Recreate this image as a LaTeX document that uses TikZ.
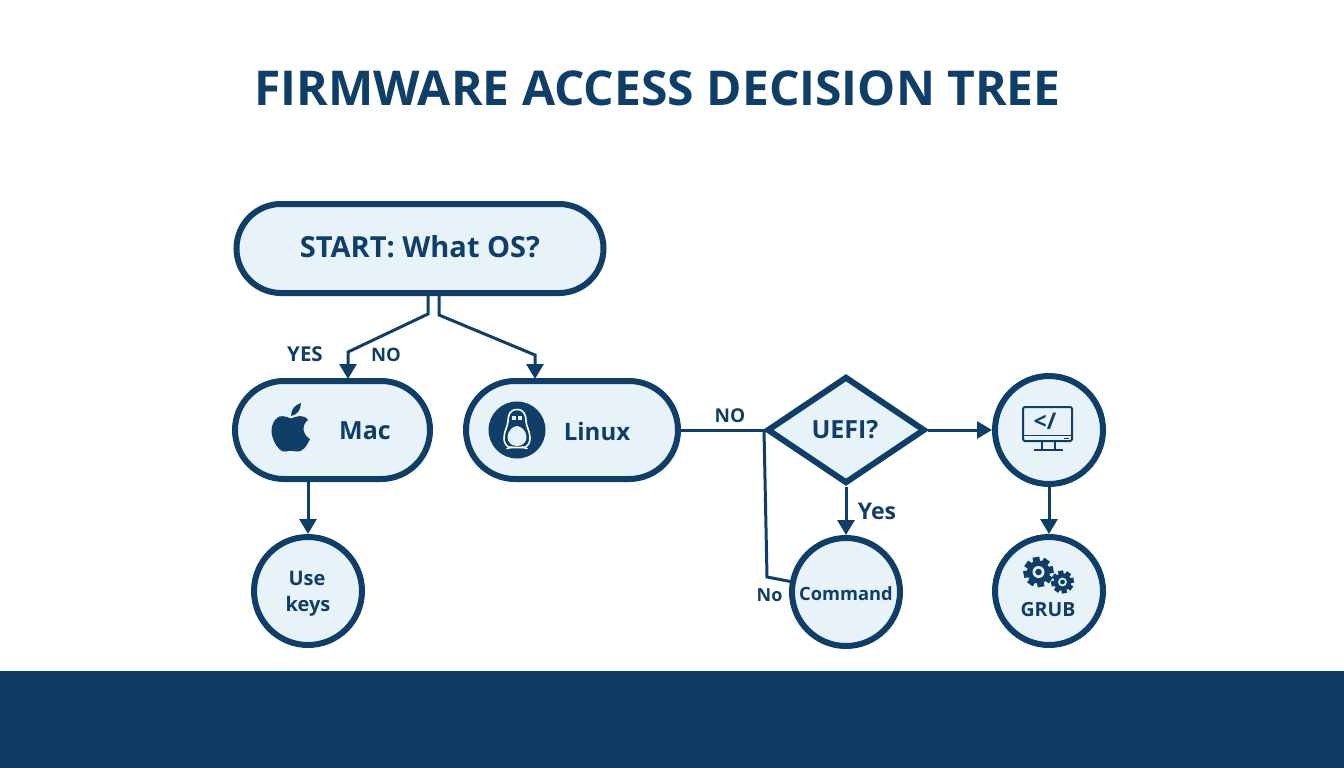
\documentclass[tikz,border=0pt]{standalone}
\usepackage{fontspec}
\setmainfont{Open Sans}
\usetikzlibrary{shapes.geometric,shapes.misc,arrows.meta}
\definecolor{navy}{HTML}{0F3F68}
\definecolor{band}{HTML}{0C3A62}
\definecolor{pale}{HTML}{E7F2F9}
\tikzset{
	box/.style={draw=navy,line width=6pt,fill=pale,rounded rectangle,minimum height=98pt,inner sep=0pt},
	ball/.style={draw=navy,line width=6pt,fill=pale,circle,minimum size=108pt,inner sep=0pt},
	gate/.style={draw=navy,line width=6pt,fill=pale,diamond,minimum width=158pt,minimum height=107pt,inner sep=0pt,aspect=1.46},
	txt/.style={text=navy,font=\fontsize{#1}{#1}\selectfont\bfseries,inner sep=0pt,align=center},
	wire/.style={draw=navy,line width=3pt},
	arr/.style={wire,-{Triangle[length=15pt,width=17pt]}},
}
\newcommand{\gearicon}[3]{% centre, body radius, hole radius
	\foreach \a in {0,45,...,315}
		\fill[navy,rotate around={\a+10:(#1)}] ([shift={(-0.26*#2,-0.6*#2)}]#1) rectangle ([shift={(0.26*#2,-1.14*#2)}]#1);
	\fill[navy] (#1) circle (0.88*#2);
	\fill[pale] (#1) circle (#3);
	\fill[navy] (#1) circle (0.55*#3);
}
\begin{document}
\begin{tikzpicture}[x=1pt,y=-1pt]
	\useasboundingbox (0,0) rectangle (1344,768);
	\fill[white] (0,0) rectangle (1344,768);
	\fill[band] (0,671) rectangle (1344,768);

	\node[txt=48] (title) at (657.5,88) {FIRMWARE ACCESS DECISION TREE};

	\node[box,minimum width=367pt,minimum height=89pt] (start) at (420,248.5) {};
	\node[txt=29] (startT) at (420,247) {START: What OS?};
	\node[box,minimum width=195pt] (mac) at (332.5,430) {};
	\node[box,minimum width=212pt] (linux) at (572,430) {};
	\node[gate] (uefi) at (846,430) {};
	\node[ball] (mon) at (1049,430) {};
	\node[ball] (keys) at (308,591) {};
	\node[ball] (cmd) at (846,592) {};
	\node[ball] (grub) at (1049,591) {};

	\node[txt=25] (macT) at (365,431) {Mac};
	\node[txt=24] (linuxT) at (597,431) {Linux};
	\node[txt=25] (uefiT) at (845,430) {UEFI?};
	\node[txt=20] (useT) at (307,578) {Use};
	\node[txt=20] (keysT) at (308,606) {keys};
	\node[txt=18.3] (cmdT) at (846,594) {Command};
	\node[txt=19.5] (grubT) at (1048,610) {GRUB};

	\node[txt=20.5] (yesA) at (305,354.5) {YES};
	\node[txt=18.5] (noA) at (386,354.5) {NO};
	\node[txt=19] (noB) at (730,416) {NO};
	\node[txt=23] (yesB) at (877,511) {Yes};
	\node[txt=18] (noC) at (769.5,595) {No};

	\coordinate (sL) at (428,291);
	\coordinate (sR) at (439,291);
	\coordinate (mT) at (348,379);
	\coordinate (lT) at (535,379);
	\coordinate (cW) at (793,582);
	\draw[arr,line join=miter] (sL) -- (428,314) -- (348,352) -- (mT);
	\draw[arr,line join=miter] (sR) -- (439,315) -- (535,355) -- (lT);
	\draw[arr] (mac.south -| keys) -- (keys.north);
	\draw[wire] (linux.east) -- (uefi.west);
	\draw[wire] (uefi.west) -- (767,577) -- (cW);
	\draw[arr] (uefi.east) -- (mon.west);
	\draw[arr] (uefi.south) -- (cmd.north);
	\draw[arr] (mon.south) -- (grub.north);

	% apple
	\fill[navy] (291,418.5) .. controls (285,416) and (280,415) .. (277,418) .. controls (271,423) and (270,433) .. (274,441) .. controls (277,448) and (282,453) .. (286,451.5) .. controls (289,450.5) and (293,450.5) .. (296,451.5) .. controls (302,453) and (307,446) .. (310,439) .. controls (304,436) and (300,426) .. (308,420) .. controls (304,414) and (297,416) .. (291,418.5) -- cycle;
	\fill[navy] (291,416) .. controls (291,409) and (295,405) .. (301,403) .. controls (301,410) and (297,415) .. (291,416) -- cycle;

	% penguin
	\fill[navy] (517,430) circle (28.5);
	\draw[white,line width=1.6pt,fill=navy] (517,409.5) .. controls (510,409.5) and (508,415) .. (508,421) .. controls (508,426) and (504,431) .. (504,438) .. controls (504,443) and (506,446) .. (510,447.5) -- (524,447.5) .. controls (528,446) and (530,443) .. (530,438) .. controls (530,431) and (526,426) .. (526,421) .. controls (526,415) and (524,409.5) .. (517,409.5) -- cycle;
	\fill[pale] (517,446) .. controls (511,446) and (507.5,442) .. (507.5,437) .. controls (507.5,431) and (513,426) .. (517,426) .. controls (521,426) and (526.5,431) .. (526.5,437) .. controls (526.5,442) and (523,446) .. (517,446) -- cycle;
	\fill[pale] (512,416) rectangle (516,420);
	\fill[pale] (518,416) rectangle (522,420);
	\draw[white,line width=1.6pt,line cap=round] (507,448.5) -- (512,447) (522,447) -- (527,448.5);

	% monitor
	\draw[navy,line width=2pt,rounded corners=1.5pt] (1023,407) rectangle (1072,441);
	\draw[navy,line width=1.5pt] (1023,435.5) -- (1072,435.5);
	\fill[navy] (1064,437.5) rectangle (1069,439);
	\draw[navy,line width=2pt] (1042,441) -- (1042,449) (1055,441) -- (1055,449) (1034,450) -- (1063,450);
	\node[txt=23] (codeT) at (1045,421) {</};

	% gears
	\gearicon{1038.5,572}{13.2}{6}
	\gearicon{1062.5,582}{10}{4.4}
\end{tikzpicture}
\end{document}
